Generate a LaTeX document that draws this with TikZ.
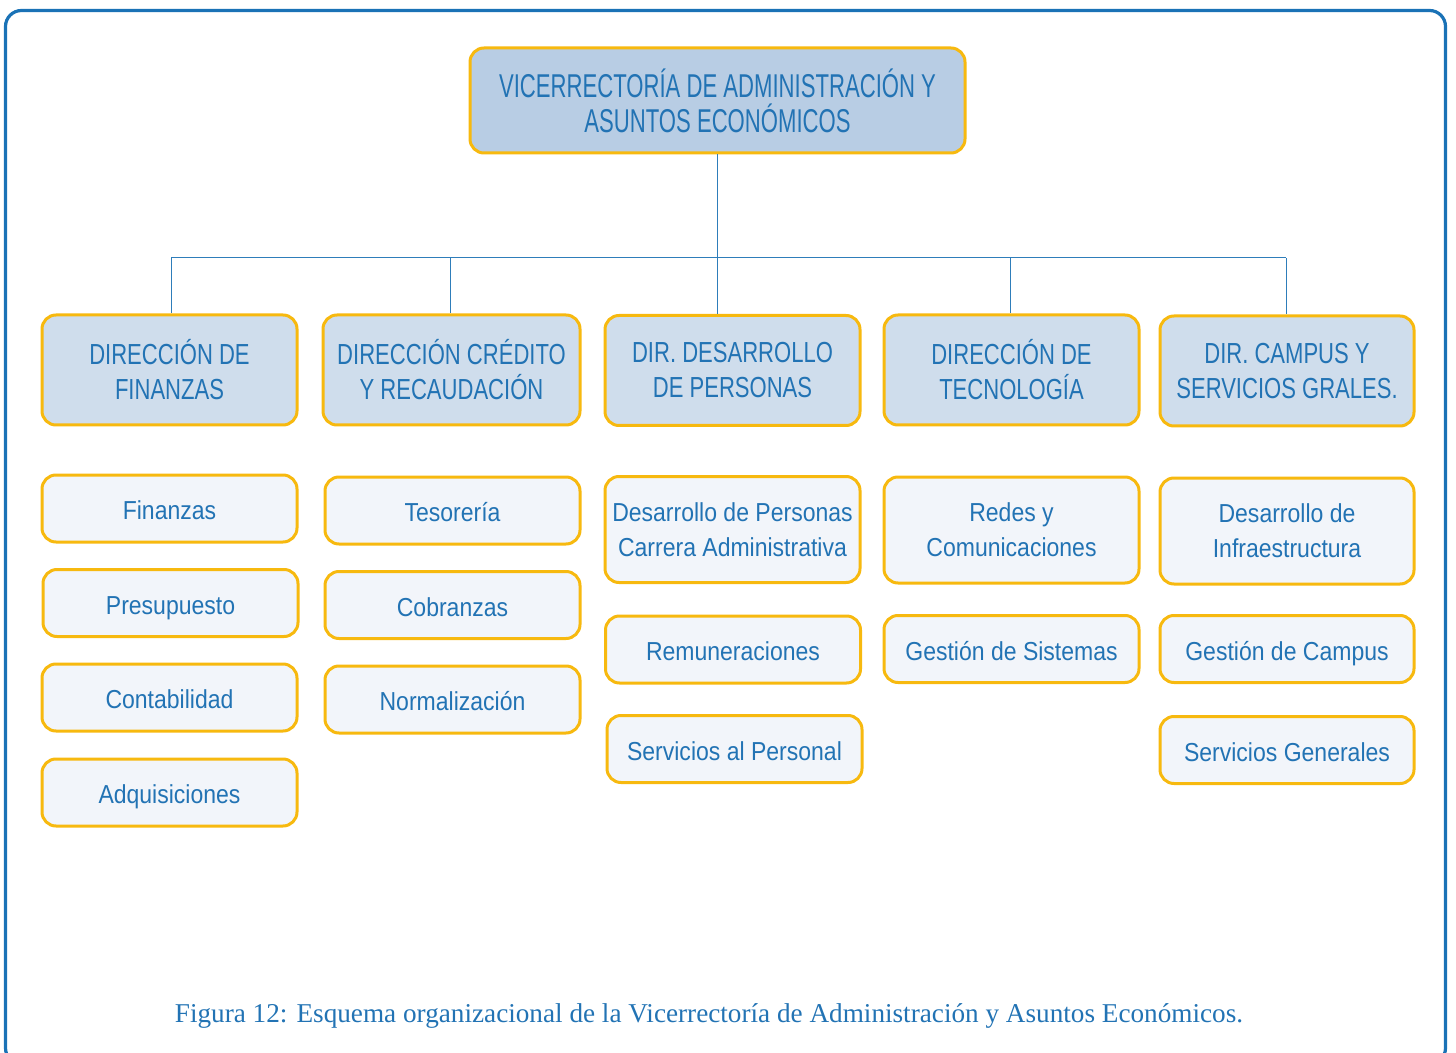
\documentclass[tikz,border=0pt]{standalone}
\usepackage{fontspec}
\setmainfont{Liberation Serif}
\newfontfamily\topfont[FakeStretch=0.67]{Liberation Sans}
\newfontfamily\capfont[FakeStretch=0.76]{Liberation Sans}
\newfontfamily\lowfont[FakeStretch=0.885]{Liberation Sans}
\definecolor{frameblue}{HTML}{1A72B6}
\definecolor{txtblue}{HTML}{2273B4}
\definecolor{gold}{HTML}{F7B90F}
\definecolor{topfill}{HTML}{B8CDE4}
\definecolor{dirfill}{HTML}{CFDDEC}
\definecolor{subfill}{HTML}{F2F5FA}
\definecolor{linkblue}{HTML}{2E7DBA}
\tikzset{
  boxbase/.style={draw=gold, line width=1.5pt, rounded corners=7pt, align=center, text=txtblue, inner sep=0pt},
  topbox/.style={boxbase, fill=topfill, minimum width=247.5pt, minimum height=52.5pt, font=\topfont\fontsize{16.5}{17.5}\selectfont},
  dirbox/.style={boxbase, fill=dirfill, minimum width=127.5pt, minimum height=55pt, font=\capfont\fontsize{14.5}{17.5}\selectfont},
  subcore/.style={boxbase, fill=subfill, minimum width=127.5pt, font=\lowfont\fontsize{13}{17.5}\selectfont},
  subbox/.style={subcore, minimum height=33.5pt, text height=11.6pt, text depth=0.6pt},
  tallbox/.style={subcore, minimum height=53pt},
  link/.style={draw=linkblue, line width=0.5pt}
}
\begin{document}
\begin{tikzpicture}[x=0.5pt,y=-0.5pt]
\useasboundingbox (0,0) rectangle (1456,1053);
\begin{scope}
\clip (0,0) rectangle (1456,1053);
\draw[frameblue, line width=1.6pt, rounded corners=8pt] (5.5,10.5) rectangle (1445.5,1064);
\end{scope}

\node[topbox] (top) at (717.5,100.5) {VICERRECTORÍA DE ADMINISTRACIÓN Y\\ASUNTOS ECONÓMICOS};

\node[dirbox] (d1) at (169.5,370) {DIRECCIÓN DE\\FINANZAS};
\node[dirbox, minimum width=128.5pt] (d2) at (451.5,370) {DIRECCIÓN CRÉDITO\\Y RECAUDACIÓN};
\node[dirbox] (d3) at (732.5,370.5) {DIR. DESARROLLO\\DE PERSONAS};
\node[dirbox] (d4) at (1011.5,370) {DIRECCIÓN DE\\TECNOLOGÍA};
\node[dirbox, minimum width=127pt] (d5) at (1287,371) {DIR. CAMPUS Y\\SERVICIOS GRALES.};

\node[subbox] (s11) at (169.5,508.5) {Finanzas};
\node[subbox] (s12) at (170.5,603) {Presupuesto};
\node[subbox] (s13) at (169.5,697.5) {Contabilidad};
\node[subbox] (s14) at (169.5,792.5) {Adquisiciones};

\node[subbox] (s21) at (452.5,510.5) {Tesorería};
\node[subbox] (s22) at (452.5,605) {Cobranzas};
\node[subbox] (s23) at (452.5,699.5) {Normalización};

\node[tallbox] (s31) at (732.5,529.5) {Desarrollo de Personas\\Carrera Administrativa};
\node[subbox] (s32) at (733,649.5) {Remuneraciones};
\node[subbox] (s33) at (734.5,749) {Servicios al Personal};

\node[tallbox] (s41) at (1011.5,530) {Redes y\\Comunicaciones};
\node[subbox] (s42) at (1011.5,649) {Gestión de Sistemas};

\node[tallbox, minimum width=127pt] (s51) at (1287,531) {Desarrollo de\\Infraestructura};
\node[subbox, minimum width=127pt] (s52) at (1287,649) {Gestión de Campus};
\node[subbox, minimum width=127pt] (s53) at (1287,750) {Servicios Generales};

\coordinate (bus) at (717.5,258);
\coordinate (b1) at (171,258);
\coordinate (b2) at (450,258);
\coordinate (b4) at (1010,258);
\coordinate (b5) at (1286,258);
\draw[link] (top.south) -- (bus);
\draw[link] (b1) -- (b5);
\draw[link] (b1) -- (b1 |- d1.north);
\draw[link] (b2) -- (b2 |- d2.north);
\draw[link] (bus) -- (bus |- d3.north);
\draw[link] (b4) -- (b4 |- d4.north);
\draw[link] (b5) -- (b5 |- d5.north);

\node[text=txtblue, font=\fontsize{13.6}{16}\selectfont, inner sep=0pt] (cap) at (709,1016) {Figura 12: Esquema organizacional de la Vicerrectoría de Administración y Asuntos Económicos.};
\end{tikzpicture}
\end{document}
